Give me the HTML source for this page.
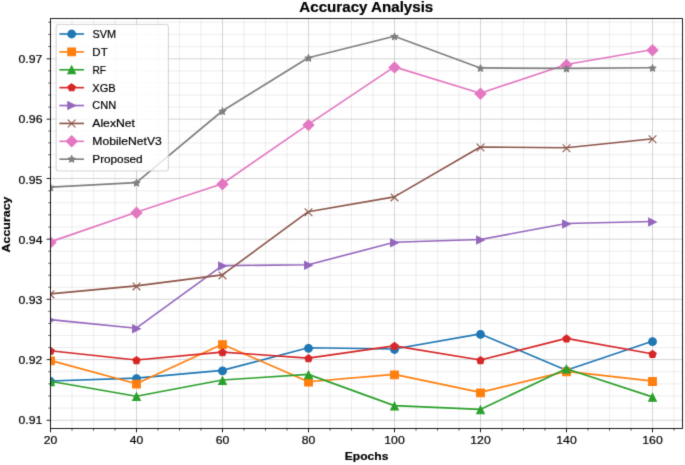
<!DOCTYPE html>
<html><head><meta charset="utf-8"><title>Accuracy Analysis</title>
<style>html,body{margin:0;padding:0;background:#fff;width:685px;height:465px;overflow:hidden}svg{display:block}text{font-family:"Liberation Sans",sans-serif}</style>
</head><body>
<svg width="685" height="465" viewBox="0 0 685 465">
<defs>
<filter id="soft" x="0" y="0" width="685" height="465" filterUnits="userSpaceOnUse" color-interpolation-filters="sRGB"><feConvolveMatrix order="3" kernelMatrix="0.0144 0.0912 0.0144 0.0912 0.5776 0.0912 0.0144 0.0912 0.0144" edgeMode="duplicate" preserveAlpha="true"/></filter>
<clipPath id="ax"><rect x="50.5" y="18.58" width="631.95" height="409.87"/></clipPath>
<circle id="mkSVM" r="3.85" fill="#1f77b4" stroke="#1f77b4" stroke-width="1.1"/>
<path id="mkDT" d="M-3.85 3.85L3.85 3.85L3.85 -3.85L-3.85 -3.85Z" fill="#ff7f0e" stroke="#ff7f0e" stroke-width="1.1" stroke-linejoin="miter"/>
<path id="mkRF" d="M0 -3.85L-3.85 3.85L3.85 3.85Z" fill="#2ca02c" stroke="#2ca02c" stroke-width="1.1" stroke-linejoin="miter"/>
<path id="mkXGB" d="M0 -3.85L-3.66 -1.19L-2.26 3.11L2.26 3.11L3.66 -1.19Z" fill="#d62728" stroke="#d62728" stroke-width="1.1" stroke-linejoin="miter"/>
<path id="mkCNN" d="M3.85 0L-3.85 -3.85L-3.85 3.85Z" fill="#9467bd" stroke="#9467bd" stroke-width="1.1" stroke-linejoin="miter"/>
<path id="mkAlexNet" d="M-3.85 3.85L3.85 -3.85M-3.85 -3.85L3.85 3.85" fill="none" stroke="#8c564b" stroke-width="1.1"/>
<path id="mkMobileNetV3" d="M0 5.44L5.44 0L0 -5.44L-5.44 0Z" fill="#e377c2" stroke="#e377c2" stroke-width="1.1" stroke-linejoin="miter"/>
<path id="mkProposed" d="M0 -3.85L-0.86 -1.19L-3.66 -1.19L-1.4 0.45L-2.26 3.11L0 1.47L2.26 3.11L1.4 0.45L3.66 -1.19L0.86 -1.19Z" fill="#7f7f7f" stroke="#7f7f7f" stroke-width="1.1" stroke-linejoin="bevel"/>
</defs>
<g filter="url(#soft)">
<rect width="685" height="465" fill="#fff"/>
<path d="M72 18.58V428.45M93.5 18.58V428.45M115 18.58V428.45M158 18.58V428.45M179.5 18.58V428.45M201 18.58V428.45M244 18.58V428.45M265.5 18.58V428.45M287 18.58V428.45M330 18.58V428.45M351.5 18.58V428.45M373 18.58V428.45M416 18.58V428.45M437.5 18.58V428.45M459 18.58V428.45M502 18.58V428.45M523.5 18.58V428.45M545 18.58V428.45M588 18.58V428.45M609.5 18.58V428.45M631 18.58V428.45M674 18.58V428.45M50.5 408.14H682.45M50.5 396H682.45M50.5 383.87H682.45M50.5 371.73H682.45M50.5 347.54H682.45M50.5 335.48H682.45M50.5 323.42H682.45M50.5 311.36H682.45M50.5 287.27H682.45M50.5 275.24H682.45M50.5 263.22H682.45M50.5 251.19H682.45M50.5 227.03H682.45M50.5 214.9H682.45M50.5 202.76H682.45M50.5 190.9H682.45M50.5 167.2H682.45M50.5 154.76H682.45M50.5 142.9H682.45M50.5 131.03H682.45M50.5 107.1H682.45M50.5 95.03H682.45M50.5 82.97H682.45M50.5 70.9H682.45M50.5 46.55H682.45M50.5 34.45H682.45M50.5 22.2H682.45" stroke="#b0b0b0" stroke-opacity="0.25" stroke-width="0.88" fill="none"/>
<path d="M50.5 18.58V428.45M136.5 18.58V428.45M222.5 18.58V428.45M308.5 18.58V428.45M394.5 18.58V428.45M480.5 18.58V428.45M566.5 18.58V428.45M652.5 18.58V428.45M50.5 420.27H682.45M50.5 359.6H682.45M50.5 299.3H682.45M50.5 239.16H682.45M50.5 178.5H682.45M50.5 119.16H682.45M50.5 58.84H682.45" stroke="#b0b0b0" stroke-opacity="0.6" stroke-width="0.88" fill="none"/>
<g clip-path="url(#ax)">
<path d="M50.3 381L136.3 378.1L222.3 370.4L308.3 347.8L394.3 349L480.3 333.9L566.3 370.3L652.3 341.2" fill="none" stroke="#1f77b4" stroke-width="1.65" stroke-linejoin="round" stroke-linecap="square"/>
<use href="#mkSVM" x="50.5" y="381.5"/>
<use href="#mkSVM" x="136.5" y="378.6"/>
<use href="#mkSVM" x="222.5" y="370.9"/>
<use href="#mkSVM" x="308.5" y="348.3"/>
<use href="#mkSVM" x="394.5" y="349.5"/>
<use href="#mkSVM" x="480.5" y="334.4"/>
<use href="#mkSVM" x="566.5" y="370.8"/>
<use href="#mkSVM" x="652.5" y="341.7"/>
<path d="M50.3 360.4L136.3 383.7L222.3 344.2L308.3 381.7L394.3 374.4L480.3 392.4L566.3 371.4L652.3 381" fill="none" stroke="#ff7f0e" stroke-width="1.65" stroke-linejoin="round" stroke-linecap="square"/>
<use href="#mkDT" x="50.5" y="360.9"/>
<use href="#mkDT" x="136.5" y="384.2"/>
<use href="#mkDT" x="222.5" y="344.7"/>
<use href="#mkDT" x="308.5" y="382.2"/>
<use href="#mkDT" x="394.5" y="374.9"/>
<use href="#mkDT" x="480.5" y="392.9"/>
<use href="#mkDT" x="566.5" y="371.9"/>
<use href="#mkDT" x="652.5" y="381.5"/>
<path d="M50.3 381.3L136.3 396.2L222.3 380L308.3 374.4L394.3 405.6L480.3 409.4L566.3 368.7L652.3 396.9" fill="none" stroke="#2ca02c" stroke-width="1.65" stroke-linejoin="round" stroke-linecap="square"/>
<use href="#mkRF" x="50.5" y="381.8"/>
<use href="#mkRF" x="136.5" y="396.7"/>
<use href="#mkRF" x="222.5" y="380.5"/>
<use href="#mkRF" x="308.5" y="374.9"/>
<use href="#mkRF" x="394.5" y="406.1"/>
<use href="#mkRF" x="480.5" y="409.9"/>
<use href="#mkRF" x="566.5" y="369.2"/>
<use href="#mkRF" x="652.5" y="397.4"/>
<path d="M50.3 350.7L136.3 360L222.3 352.1L308.3 358.1L394.3 345.9L480.3 360L566.3 338.4L652.3 353.8" fill="none" stroke="#d62728" stroke-width="1.65" stroke-linejoin="round" stroke-linecap="square"/>
<use href="#mkXGB" x="50.5" y="351.2"/>
<use href="#mkXGB" x="136.5" y="360.5"/>
<use href="#mkXGB" x="222.5" y="352.6"/>
<use href="#mkXGB" x="308.5" y="358.6"/>
<use href="#mkXGB" x="394.5" y="346.4"/>
<use href="#mkXGB" x="480.5" y="360.5"/>
<use href="#mkXGB" x="566.5" y="338.9"/>
<use href="#mkXGB" x="652.5" y="354.3"/>
<path d="M50.3 319.6L136.3 328.2L222.3 265.6L308.3 264.8L394.3 242.2L480.3 239.5L566.3 223.5L652.3 221.5" fill="none" stroke="#9467bd" stroke-width="1.65" stroke-linejoin="round" stroke-linecap="square"/>
<use href="#mkCNN" x="50.5" y="320.1"/>
<use href="#mkCNN" x="136.5" y="328.7"/>
<use href="#mkCNN" x="222.5" y="266.1"/>
<use href="#mkCNN" x="308.5" y="265.3"/>
<use href="#mkCNN" x="394.5" y="242.7"/>
<use href="#mkCNN" x="480.5" y="240"/>
<use href="#mkCNN" x="566.5" y="224"/>
<use href="#mkCNN" x="652.5" y="222"/>
<path d="M50.3 293.9L136.3 285.9L222.3 274.9L308.3 211.7L394.3 196.9L480.3 147L566.3 147.8L652.3 138.8" fill="none" stroke="#8c564b" stroke-width="1.65" stroke-linejoin="round" stroke-linecap="square"/>
<use href="#mkAlexNet" x="50.5" y="294.4"/>
<use href="#mkAlexNet" x="136.5" y="286.4"/>
<use href="#mkAlexNet" x="222.5" y="275.4"/>
<use href="#mkAlexNet" x="308.5" y="212.2"/>
<use href="#mkAlexNet" x="394.5" y="197.4"/>
<use href="#mkAlexNet" x="480.5" y="147.5"/>
<use href="#mkAlexNet" x="566.5" y="148.3"/>
<use href="#mkAlexNet" x="652.5" y="139.3"/>
<path d="M50.3 241.9L136.3 212.3L222.3 183.7L308.3 124.4L394.3 66.9L480.3 93.2L566.3 64.5L652.3 49.7" fill="none" stroke="#e377c2" stroke-width="1.65" stroke-linejoin="round" stroke-linecap="square"/>
<use href="#mkMobileNetV3" x="50.5" y="242.4"/>
<use href="#mkMobileNetV3" x="136.5" y="212.8"/>
<use href="#mkMobileNetV3" x="222.5" y="184.2"/>
<use href="#mkMobileNetV3" x="308.5" y="124.9"/>
<use href="#mkMobileNetV3" x="394.5" y="67.4"/>
<use href="#mkMobileNetV3" x="480.5" y="93.7"/>
<use href="#mkMobileNetV3" x="566.5" y="65"/>
<use href="#mkMobileNetV3" x="652.5" y="50.2"/>
<path d="M50.3 187.1L136.3 182.6L222.3 111L308.3 57.8L394.3 36.3L480.3 67.9L566.3 68.4L652.3 67.8" fill="none" stroke="#7f7f7f" stroke-width="1.65" stroke-linejoin="round" stroke-linecap="square"/>
<use href="#mkProposed" x="50.5" y="187.6"/>
<use href="#mkProposed" x="136.5" y="183.1"/>
<use href="#mkProposed" x="222.5" y="111.5"/>
<use href="#mkProposed" x="308.5" y="58.3"/>
<use href="#mkProposed" x="394.5" y="36.8"/>
<use href="#mkProposed" x="480.5" y="68.4"/>
<use href="#mkProposed" x="566.5" y="68.9"/>
<use href="#mkProposed" x="652.5" y="68.3"/>
</g>
<rect x="50.5" y="18.58" width="631.95" height="409.87" fill="none" stroke="#000" stroke-width="0.88" stroke-linejoin="miter"/>
<path d="M50.5 428.45v3.85M136.5 428.45v3.85M222.5 428.45v3.85M308.5 428.45v3.85M394.5 428.45v3.85M480.5 428.45v3.85M566.5 428.45v3.85M652.5 428.45v3.85M50.5 420.27h-3.85M50.5 359.6h-3.85M50.5 299.3h-3.85M50.5 239.16h-3.85M50.5 178.5h-3.85M50.5 119.16h-3.85M50.5 58.84h-3.85" stroke="#000" stroke-width="0.88"/>
<path d="M72 428.45v2.2M93.5 428.45v2.2M115 428.45v2.2M158 428.45v2.2M179.5 428.45v2.2M201 428.45v2.2M244 428.45v2.2M265.5 428.45v2.2M287 428.45v2.2M330 428.45v2.2M351.5 428.45v2.2M373 428.45v2.2M416 428.45v2.2M437.5 428.45v2.2M459 428.45v2.2M502 428.45v2.2M523.5 428.45v2.2M545 428.45v2.2M588 428.45v2.2M609.5 428.45v2.2M631 428.45v2.2M674 428.45v2.2M50.5 408.14h-2.2M50.5 396h-2.2M50.5 383.87h-2.2M50.5 371.73h-2.2M50.5 347.54h-2.2M50.5 335.48h-2.2M50.5 323.42h-2.2M50.5 311.36h-2.2M50.5 287.27h-2.2M50.5 275.24h-2.2M50.5 263.22h-2.2M50.5 251.19h-2.2M50.5 227.03h-2.2M50.5 214.9h-2.2M50.5 202.76h-2.2M50.5 190.9h-2.2M50.5 167.2h-2.2M50.5 154.76h-2.2M50.5 142.9h-2.2M50.5 131.03h-2.2M50.5 107.1h-2.2M50.5 95.03h-2.2M50.5 82.97h-2.2M50.5 70.9h-2.2M50.5 46.55h-2.2M50.5 34.45h-2.2M50.5 22.2h-2.2" stroke="#000" stroke-width="0.66"/>
<g font-family="Liberation Sans, sans-serif" fill="#000" stroke="#000" stroke-width="0.2">
<text x="43.69" y="443.75" font-size="11.66" textLength="13.52" lengthAdjust="spacingAndGlyphs">20</text>
<text x="129.76" y="443.75" font-size="11.66" textLength="13.45" lengthAdjust="spacingAndGlyphs">40</text>
<text x="215.65" y="443.75" font-size="11.66" textLength="13.58" lengthAdjust="spacingAndGlyphs">60</text>
<text x="301.72" y="443.75" font-size="11.66" textLength="13.51" lengthAdjust="spacingAndGlyphs">80</text>
<text x="384.27" y="443.75" font-size="11.66" textLength="20.45" lengthAdjust="spacingAndGlyphs">100</text>
<text x="470.27" y="443.75" font-size="11.66" textLength="20.45" lengthAdjust="spacingAndGlyphs">120</text>
<text x="556.27" y="443.75" font-size="11.66" textLength="20.45" lengthAdjust="spacingAndGlyphs">140</text>
<text x="642.27" y="443.75" font-size="11.66" textLength="20.46" lengthAdjust="spacingAndGlyphs">160</text>
<text x="18.56" y="424.48" font-size="11.66" textLength="23.8" lengthAdjust="spacingAndGlyphs">0.91</text>
<text x="18.56" y="364.24" font-size="11.66" textLength="23.71" lengthAdjust="spacingAndGlyphs">0.92</text>
<text x="18.56" y="304" font-size="11.66" textLength="23.86" lengthAdjust="spacingAndGlyphs">0.93</text>
<text x="18.56" y="243.76" font-size="11.66" textLength="23.95" lengthAdjust="spacingAndGlyphs">0.94</text>
<text x="18.56" y="183.52" font-size="11.66" textLength="23.77" lengthAdjust="spacingAndGlyphs">0.95</text>
<text x="18.55" y="123.28" font-size="11.66" textLength="24.07" lengthAdjust="spacingAndGlyphs">0.96</text>
<text x="18.56" y="63.04" font-size="11.66" textLength="23.89" lengthAdjust="spacingAndGlyphs">0.97</text>
<text x="344.76" y="459.6" font-size="11.66" textLength="43.61" lengthAdjust="spacingAndGlyphs" font-weight="bold">Epochs</text>
<text x="299.39" y="11.8" font-size="13.99" textLength="133.89" lengthAdjust="spacingAndGlyphs" font-weight="bold">Accuracy Analysis</text>
<text x="-17.8" y="224.3" font-size="11.66" textLength="56.01" lengthAdjust="spacingAndGlyphs" font-weight="bold" transform="rotate(-90 10.4 224.3)">Accuracy</text>
</g>
<rect x="56.15" y="24.45" width="112.25" height="146.55" rx="2.2" fill="#fff" stroke="#ccc" stroke-width="1.1" opacity="0.8"/>
<g font-family="Liberation Sans, sans-serif" fill="#000" stroke="#000" stroke-width="0.2">
<path d="M60.2 34H83.1" stroke="#1f77b4" stroke-width="1.65" stroke-linecap="square"/>
<use href="#mkSVM" x="71.65" y="34"/>
<text x="92.43" y="37.85" font-size="11.66" textLength="23.61" lengthAdjust="spacingAndGlyphs">SVM</text>
<path d="M60.2 51.89H83.1" stroke="#ff7f0e" stroke-width="1.65" stroke-linecap="square"/>
<use href="#mkDT" x="71.65" y="51.89"/>
<text x="92.33" y="55.74" font-size="11.66" textLength="15.34" lengthAdjust="spacingAndGlyphs">DT</text>
<path d="M60.2 69.77H83.1" stroke="#2ca02c" stroke-width="1.65" stroke-linecap="square"/>
<use href="#mkRF" x="71.65" y="69.77"/>
<text x="92.45" y="73.62" font-size="11.66" textLength="13.49" lengthAdjust="spacingAndGlyphs">RF</text>
<path d="M60.2 87.66H83.1" stroke="#d62728" stroke-width="1.65" stroke-linecap="square"/>
<use href="#mkXGB" x="71.65" y="87.66"/>
<text x="92.28" y="91.51" font-size="11.66" textLength="23.34" lengthAdjust="spacingAndGlyphs">XGB</text>
<path d="M60.2 105.54H83.1" stroke="#9467bd" stroke-width="1.65" stroke-linecap="square"/>
<use href="#mkCNN" x="71.65" y="105.54"/>
<text x="92.26" y="109.39" font-size="11.66" textLength="23.91" lengthAdjust="spacingAndGlyphs">CNN</text>
<path d="M60.2 123.43H83.1" stroke="#8c564b" stroke-width="1.65" stroke-linecap="square"/>
<use href="#mkAlexNet" x="71.65" y="123.43"/>
<text x="92.26" y="127.28" font-size="11.66" textLength="42.75" lengthAdjust="spacingAndGlyphs">AlexNet</text>
<path d="M60.2 141.32H83.1" stroke="#e377c2" stroke-width="1.65" stroke-linecap="square"/>
<use href="#mkMobileNetV3" x="71.65" y="141.32"/>
<text x="92.28" y="145.17" font-size="11.66" textLength="69.5" lengthAdjust="spacingAndGlyphs">MobileNetV3</text>
<path d="M60.2 159.2H83.1" stroke="#7f7f7f" stroke-width="1.65" stroke-linecap="square"/>
<use href="#mkProposed" x="71.65" y="159.2"/>
<text x="92.32" y="163.05" font-size="11.66" textLength="50.29" lengthAdjust="spacingAndGlyphs">Proposed</text>
</g>
</g>
</svg>
</body></html>
